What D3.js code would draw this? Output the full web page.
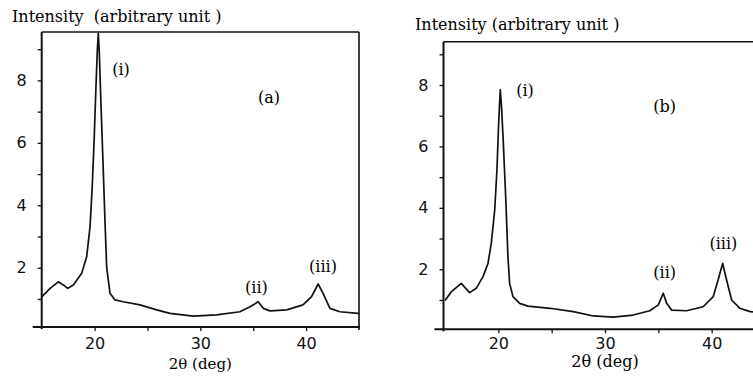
<!DOCTYPE html>
<html>
<head>
<meta charset="utf-8">
<script src="https://cdn.jsdelivr.net/npm/d3@7"></script>
<style>
  body { margin: 0; background: #fff; }
  svg { display: block; }
  .ttl { font-family: "DejaVu Serif", serif; font-size: 16px; white-space: pre; }
  .lbl { font-family: "DejaVu Serif", serif; font-size: 16px; }
  .tick text { font-family: "DejaVu Sans", sans-serif; font-size: 16px; fill: #111; }
</style>
</head>
<body>
<script>
// XRD pattern (a)
var thetaA = [15, 15.8, 16.57, 17.04, 17.46, 17.99, 18.78, 19.25, 19.57, 19.78, 19.97, 20.13, 20.26, 20.35, 20.45, 20.6, 20.82, 20.98, 21.14, 21.46, 21.93, 22.7,
              24.29, 25.87, 27.13, 29.33, 31.54, 33.74, 34.7, 35.47, 35.95, 36.58, 38.16, 39.7, 40.5, 41.14, 41.6, 42.25, 43.2, 44.9, 45];
var intA   = [1.07, 1.34, 1.55, 1.45, 1.34, 1.45, 1.82, 2.35, 3.31, 4.60, 6.20, 7.80, 8.97, 9.51, 8.87, 7.27, 5.13, 3.53, 2.03, 1.18, 0.97, 0.91,
              0.81, 0.65, 0.54, 0.45, 0.49, 0.59, 0.75, 0.91, 0.70, 0.62, 0.65, 0.81, 1.07, 1.48, 1.18, 0.70, 0.59, 0.54, 0.53];
// XRD pattern (b)
var thetaB = [15, 15.6, 16.53, 17.3, 17.93, 18.56, 19.03, 19.34, 19.66, 19.87, 20.03, 20.18, 20.28, 20.44, 20.69, 20.9, 21.06, 21.37, 22.0, 22.78,
              24.84, 27.03, 28.9, 30.77, 32.65, 34.2, 35.0, 35.46, 35.78, 36.25, 37.65, 39.2, 40.15, 40.6, 41.03, 41.4, 41.87, 42.65, 43.6, 45];
var intB   = [0.98, 1.27, 1.54, 1.24, 1.38, 1.76, 2.19, 2.85, 3.93, 5.23, 6.76, 7.84, 7.41, 6.32, 4.36, 2.41, 1.54, 1.11, 0.89, 0.80,
              0.73, 0.62, 0.48, 0.44, 0.51, 0.65, 0.84, 1.22, 0.89, 0.67, 0.65, 0.78, 1.11, 1.65, 2.19, 1.65, 1.00, 0.73, 0.62, 0.58];

var yTicks = [1, 2, 3, 4, 5, 6, 7, 8, 9];
var yLabels = [2, 4, 6, 8];
var xTicks = [20, 25, 30, 35, 40];
var xLabels = [20, 30, 40];
var peakA = [["(i)", 22.5, 8.17], ["(ii)", 35.3, 1.2], ["(iii)", 41.6, 1.85]];
var peakB = [["(i)", 22.5, 7.65], ["(ii)", 35.6, 1.72], ["(iii)", 41.1, 2.66]];

var svg = d3.select("body").append("svg")
  .attr("width", 753)
  .attr("height", 384);

function drawPanel(p) {
  var x = d3.scaleLinear().domain([15, 45]).range([p.x0, p.x1]);
  var y = d3.scaleLinear().domain([0, p.ymax]).range([p.y0, p.top]);
  var g = svg.append("g");

  // y axis ticks
  var ya = g.append("g").attr("transform", "translate(" + p.left + ",0)")
    .call(d3.axisLeft(y).tickValues(yTicks).tickSize(4).tickPadding(11)
      .tickFormat(function(d) { return yLabels.indexOf(d) >= 0 ? d : ""; }));
  ya.select(".domain").remove();
  ya.selectAll(".tick line").attr("stroke", "#111").attr("stroke-width", 1.3);

  // x axis ticks
  var xa = g.append("g").attr("transform", "translate(0," + p.bottom + ")")
    .call(d3.axisBottom(x).tickValues(xTicks).tickSize(4)
      .tickFormat(function(d) { return xLabels.indexOf(d) >= 0 ? d : ""; }));
  xa.select(".domain").remove();
  xa.selectAll(".tick line").attr("stroke", "#111").attr("stroke-width", 1.3);
  xa.selectAll(".tick text").attr("y", p.labY);

  // frame
  g.append("line").attr("x1", p.left).attr("x2", p.left).attr("y1", p.top).attr("y2", p.bottom + 2)
    .attr("stroke", "#111").attr("stroke-width", 2);
  g.append("line").attr("x1", p.left - 9).attr("x2", p.x1 + 1).attr("y1", p.bottom).attr("y2", p.bottom)
    .attr("stroke", "#111").attr("stroke-width", 2);
  g.append("line").attr("x1", p.left).attr("x2", p.x1).attr("y1", p.top).attr("y2", p.top)
    .attr("stroke", "#111").attr("stroke-width", 1.6);
  if (p.rightBorder) {
    g.append("line").attr("x1", p.x1).attr("x2", p.x1).attr("y1", p.top).attr("y2", p.bottom + 3)
      .attr("stroke", "#111").attr("stroke-width", 1.6);
  }

  // pattern
  var line = d3.line().x(function(d) { return x(d[0]); }).y(function(d) { return y(d[1]); });
  g.append("path")
    .datum(d3.zip(p.xs, p.ys))
    .attr("d", line)
    .attr("fill", "none")
    .attr("stroke", "#111")
    .attr("stroke-width", 1.7)
    .attr("stroke-linejoin", "round");

  // texts
  g.append("text").attr("class", "ttl").attr("x", p.ttlX).attr("y", p.ttlY).text(p.title);
  g.append("text").attr("class", "lbl").attr("x", x(30)).attr("y", p.xtY)
    .attr("text-anchor", "middle").style("font-size", p.xtSize).text("2θ (deg)");
  g.append("text").attr("class", "lbl").attr("x", x(p.tag[1])).attr("y", y(p.tag[2]))
    .attr("text-anchor", "middle").text(p.tag[0]);
  g.selectAll(".peak").data(p.peaks).enter().append("text")
    .attr("class", "lbl peak")
    .attr("x", function(d) { return x(d[1]); })
    .attr("y", function(d) { return y(d[2]); })
    .attr("text-anchor", "middle")
    .text(function(d) { return d[0]; });
}

drawPanel({
  xs: thetaA, ys: intA, x0: 41.7, x1: 359, ymax: 9.55, y0: 330.2, top: 32,
  left: 41.7, bottom: 327, labY: 11, rightBorder: true,
  title: "Intensity  (arbitrary unit )", ttlX: 12, ttlY: 22, xtY: 369, xtSize: "15px",
  tag: ["(a)", 36.5, 7.27], peaks: peakA
});
drawPanel({
  xs: thetaB, ys: intB, x0: 445, x1: 765, ymax: 9.41, y0: 330.7, top: 41.7,
  left: 443.5, bottom: 329.3, labY: 8, rightBorder: false,
  title: "Intensity (arbitrary unit )", ttlX: 415, ttlY: 30, xtY: 367, xtSize: "16px",
  tag: ["(b)", 35.6, 7.12], peaks: peakB
});
</script>
</body>
</html>
